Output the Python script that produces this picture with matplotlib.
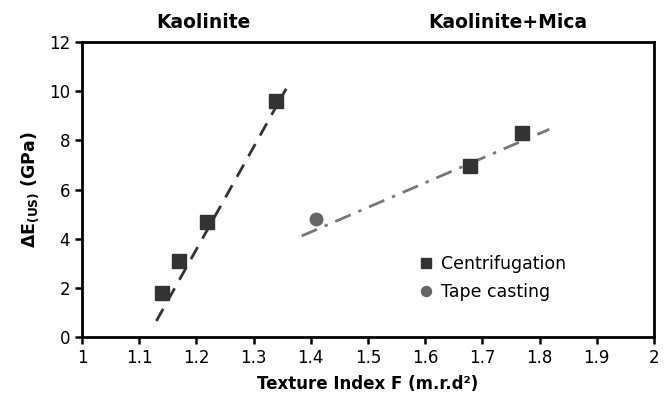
import matplotlib
matplotlib.use("Agg")
import matplotlib.pyplot as plt

# Data
kaol_x = [1.139, 1.170, 1.219, 1.339]
kaol_y = [1.80, 3.08, 4.67, 9.61]
mica_x = [1.679, 1.770]
mica_y = [6.97, 8.29]
tape_x = [1.409]
tape_y = [4.80]
kaol_fit_x = [1.13, 1.357]
kaol_fit_y = [0.65, 10.10]
mica_fit_x = [1.384, 1.817]
mica_fit_y = [4.11, 8.45]
xticks = [1, 1.1, 1.2, 1.3, 1.4, 1.5, 1.6, 1.7, 1.8, 1.9, 2]
xticklabels = ["1", "1.1", "1.2", "1.3", "1.4", "1.5", "1.6", "1.7", "1.8", "1.9", "2"]
yticks = [0, 2, 4, 6, 8, 10, 12]

plt.rcParams['font.family'] = ['DejaVu Sans']

fig = plt.figure(figsize=(6.70, 3.97), dpi=100)
ax = fig.add_axes([82/670, 1-337/397, (654-82)/670, (337-42)/397])

ax.plot(kaol_fit_x, kaol_fit_y, color='#333333', lw=2.0, dashes=(5, 3.5), zorder=2)
ax.plot(mica_fit_x, mica_fit_y, color='#777777', lw=2.0, dashes=(6, 3, 1.2, 3), zorder=2)

ax.plot(kaol_x, kaol_y, 's', color='#333333', ms=9.5, zorder=3, label='Centrifugation')
ax.plot(mica_x, mica_y, 's', color='#333333', ms=9.5, zorder=3)
ax.plot(tape_x, tape_y, 'o', color='#666666', ms=9, zorder=3, label='Tape casting')

ax.set_xlim(1, 2)
ax.set_ylim(0, 12)
ax.set_xticks(xticks)
ax.set_xticklabels(xticklabels)
ax.set_yticks(yticks)
ax.tick_params(direction='out', length=5, width=1.8, labelsize=12, colors='black', top=False, right=False)
for s in ax.spines.values():
    s.set_linewidth(2.0)

ax.set_xlabel('Texture Index F (m.r.d²)', fontsize=12, fontweight='bold', labelpad=6)
ax.set_ylabel(r'$\mathbf{\Delta E_{(US)}}$ (GPa)', fontsize=12.5, fontweight='bold', labelpad=6)

ax.text(1.213, 12.4, 'Kaolinite', fontsize=13.5, fontweight='bold', ha='center', va='bottom')
ax.text(1.744, 12.4, 'Kaolinite+Mica', fontsize=13.5, fontweight='bold', ha='center', va='bottom')

ax.legend(loc='upper left', bbox_to_anchor=(0.555, 0.33), frameon=False, fontsize=12.5,
          handletextpad=0.3, markerscale=0.8, labelspacing=0.55, handlelength=1.2)

fig.savefig('out.png', dpi=100)
